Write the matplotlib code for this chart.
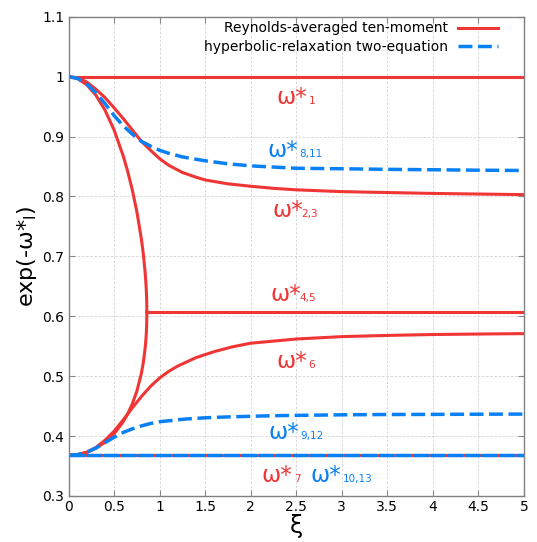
import numpy as np
import matplotlib.pyplot as plt

# -------------------------
# 1. Data
# -------------------------

xi = [0, 0.1, 0.2, 0.3, 0.4, 0.5, 0.6, 0.7, 0.8, 0.9, 1.0, 1.1, 1.25, 1.4,
      1.5, 1.75, 2.0, 2.25, 2.5, 3.0, 3.5, 4.0, 4.5, 5.0]

# Reynolds-averaged ten-moment
w1 = [1.0] * len(xi)
w23 = [1.0, 0.998, 0.991, 0.979, 0.965, 0.948, 0.930, 0.911, 0.892, 0.877,
       0.863, 0.852, 0.840, 0.832, 0.8275, 0.821, 0.817, 0.8135, 0.811, 0.808,
       0.8065, 0.805, 0.804, 0.803]
w7 = [0.3679] * len(xi)

xi_45 = [0, 0.1, 0.2, 0.3, 0.4, 0.5, 0.6, 0.65, 0.7, 0.75, 0.8, 0.82, 0.84,
         0.85, 0.855, 0.858, 0.86]
w45_upper = [1.0, 0.9966, 0.9864, 0.9691, 0.9442, 0.9110, 0.8678, 0.8415,
             0.8110, 0.7747, 0.7287, 0.7052, 0.6752, 0.6545, 0.6402, 0.6277,
             0.6065]
w45_lower = [0.3679, 0.3691, 0.3729, 0.3796, 0.3896, 0.4038, 0.4239, 0.4372,
             0.4536, 0.4749, 0.5048, 0.5216, 0.5448, 0.5621, 0.5747, 0.5861,
             0.6065]
xi_45_flat = [0.86, 5.0]
w45_flat = [0.6065, 0.6065]

xi_6 = [0, 0.1, 0.2, 0.3, 0.4, 0.5, 0.6, 0.7, 0.8, 0.9, 1.0, 1.1, 1.2, 1.4,
        1.6, 1.8, 2.0, 2.5, 3.0, 3.5, 4.0, 4.5, 5.0]
w6 = [0.3679, 0.369, 0.373, 0.381, 0.393, 0.408, 0.427, 0.447, 0.466, 0.483,
      0.497, 0.508, 0.517, 0.531, 0.541, 0.549, 0.555, 0.562, 0.566, 0.568,
      0.5695, 0.5703, 0.571]

# hyperbolic-relaxation two-equation
w811 = [1.0, 0.997, 0.988, 0.973, 0.955, 0.935, 0.918, 0.904, 0.892, 0.884,
        0.877, 0.872, 0.866, 0.862, 0.8595, 0.8545, 0.851, 0.849, 0.847,
        0.8462, 0.8452, 0.8445, 0.8438, 0.8433]
w912 = [0.3679, 0.369, 0.373, 0.380, 0.389, 0.398, 0.406, 0.412, 0.417, 0.421,
        0.424, 0.4255, 0.428, 0.4296, 0.4305, 0.432, 0.433, 0.434, 0.4345,
        0.4355, 0.436, 0.4362, 0.4365, 0.4367]
w1013 = [0.3679] * len(xi)

# curve labels
label_subs = ["1", "8,11", "2,3", "4,5", "6", "9,12", "7", "10,13"]
label_model = ["ten", "two", "ten", "ten", "ten", "two", "ten", "two"]
label_x = [2.28, 2.18, 2.24, 2.22, 2.28, 2.195, 2.12, 2.66]
label_y = [0.954, 0.866, 0.7656, 0.625, 0.514, 0.3956, 0.323, 0.323]
sub_x = [2.64, 2.53, 2.56, 2.54, 2.63, 2.545, 2.48, 3.01]

x_ticks = [0, 0.5, 1, 1.5, 2, 2.5, 3, 3.5, 4, 4.5, 5]
x_tick_labels = ["0", "0.5", "1", "1.5", "2", "2.5", "3", "3.5", "4", "4.5", "5"]
y_ticks = [0.3, 0.4, 0.5, 0.6, 0.7, 0.8, 0.9, 1.0, 1.1]
y_tick_labels = ["0.3", "0.4", "0.5", "0.6", "0.7", "0.8", "0.9", "1", "1.1"]

red = "#f03535"
blue = "#0a80f5"
colors = {"ten": red, "two": blue}

# -------------------------
# 2. Figure
# -------------------------

fig = plt.figure(figsize=(5.37, 5.42), dpi=100)
ax = fig.add_axes([0.1276, 0.0849, 0.8482, 0.8843])

lw = 2.2
dash = (4, 1.6)

ax.plot(xi, w1, color=red, lw=lw, label="Reynolds-averaged ten-moment")
ax.plot(xi, w23, color=red, lw=lw)
ax.plot(xi_45, w45_upper, color=red, lw=lw)
ax.plot(xi_45, w45_lower, color=red, lw=lw)
ax.plot(xi_45_flat, w45_flat, color=red, lw=lw)
ax.plot(xi_6, w6, color=red, lw=lw)
ax.plot(xi, w7, color=red, lw=lw)

ax.plot(xi, w811, color=blue, lw=lw + 0.3, dashes=dash,
        label="hyperbolic-relaxation two-equation")
ax.plot(xi, w912, color=blue, lw=lw + 0.3, dashes=dash)
ax.plot(xi, w1013, color=blue, lw=lw + 0.3, dashes=(4.5, 0.45))

# -------------------------
# 3. Labels on the curves
# -------------------------

for i in range(len(label_subs)):
    c = colors[label_model[i]]
    ax.text(label_x[i], label_y[i], "ω*", color=c, fontsize=16.5,
            va="baseline", ha="left")
    ax.text(sub_x[i], label_y[i], label_subs[i], color=c, fontsize=7.5,
            va="baseline", ha="left")

# -------------------------
# 4. Axes styling
# -------------------------

ax.set_xlim(0, 5)
ax.set_ylim(0.3, 1.1)
ax.set_xticks(x_ticks)
ax.set_xticklabels(x_tick_labels)
ax.set_yticks(y_ticks)
ax.set_yticklabels(y_tick_labels)
ax.tick_params(direction="in", top=True, right=True, length=4,
               color="#888888", labelsize=10, pad=3)
ax.grid(True, color="#d2d2d2", linestyle=(0, (3, 2)), lw=0.6)
for s in ax.spines.values():
    s.set_color("#808080")
    s.set_linewidth(1.0)

ax.set_xlabel("ξ", fontsize=17, labelpad=0)
ax.set_ylabel("exp(-ω*$_\\mathregular{l}$)", fontsize=16, labelpad=2)

ax.legend(loc="upper right", bbox_to_anchor=(0.943, 0.99), frameon=False,
          markerfirst=False, fontsize=10, handlelength=2.9,
          handletextpad=0.7, labelspacing=0.3, borderpad=0,
          borderaxespad=0)

plt.savefig("out.png", dpi=100)
